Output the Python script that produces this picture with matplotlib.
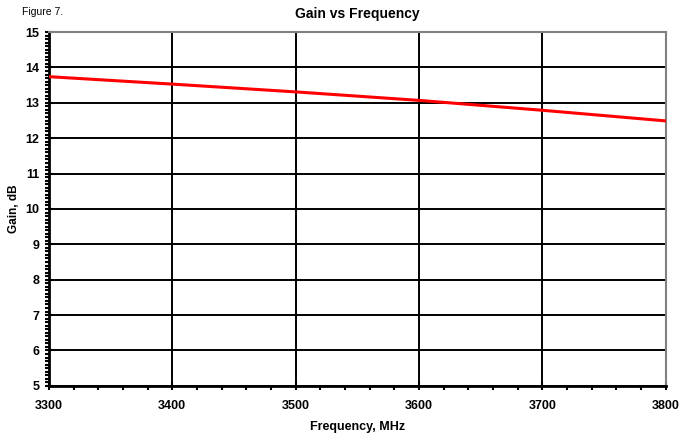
import matplotlib
matplotlib.use('Agg')
import matplotlib.pyplot as plt
from matplotlib.ticker import MultipleLocator

# data
freq = [3300, 3400, 3500, 3600, 3700, 3800]
gain = [13.74, 13.53, 13.31, 13.07, 12.79, 12.49]

plt.rcParams['font.family'] = ['Liberation Sans', 'DejaVu Sans']

fig = plt.figure(figsize=(6.8, 4.34), dpi=100)
ax = fig.add_axes([0.072, 0.111, 0.907, 0.815])

ax.plot(freq, gain, color='#ff0000', lw=2.2, zorder=3)

ax.set_xlim(3300, 3800)
ax.set_ylim(5, 15)
ax.xaxis.set_major_locator(MultipleLocator(100))
ax.xaxis.set_minor_locator(MultipleLocator(20))
ax.yaxis.set_major_locator(MultipleLocator(1))
ax.yaxis.set_minor_locator(MultipleLocator(0.1))

ax.grid(True, which='major', color='black', lw=1.4)
ax.set_axisbelow(True)

for s in ['left', 'bottom']:
    ax.spines[s].set_color('black')
    ax.spines[s].set_linewidth(2)
for s in ['top', 'right']:
    ax.spines[s].set_color('#808080')
    ax.spines[s].set_linewidth(1.5)

ax.tick_params(which='major', direction='inout', length=6, width=1.5, color='black')
ax.tick_params(which='minor', direction='out', length=3, width=1.5, color='black')
ax.tick_params(axis='y', labelsize=9, pad=4)
ax.tick_params(axis='x', labelsize=9, pad=7)
for lab in ax.get_xticklabels() + ax.get_yticklabels():
    lab.set_fontweight('bold')

ax.set_xlabel('Frequency, MHz', fontsize=9, fontweight='bold', labelpad=7)
ax.set_ylabel('Gain, dB', fontsize=8.5, fontweight='bold')
ax.yaxis.set_label_coords(-0.047, 0.5)
ax.set_title('Gain vs Frequency', fontsize=10, fontweight='bold', pad=10)
fig.text(0.032, 0.972, 'Figure 7.', fontsize=7.5, va='center')

fig.savefig('out.png', dpi=100)
